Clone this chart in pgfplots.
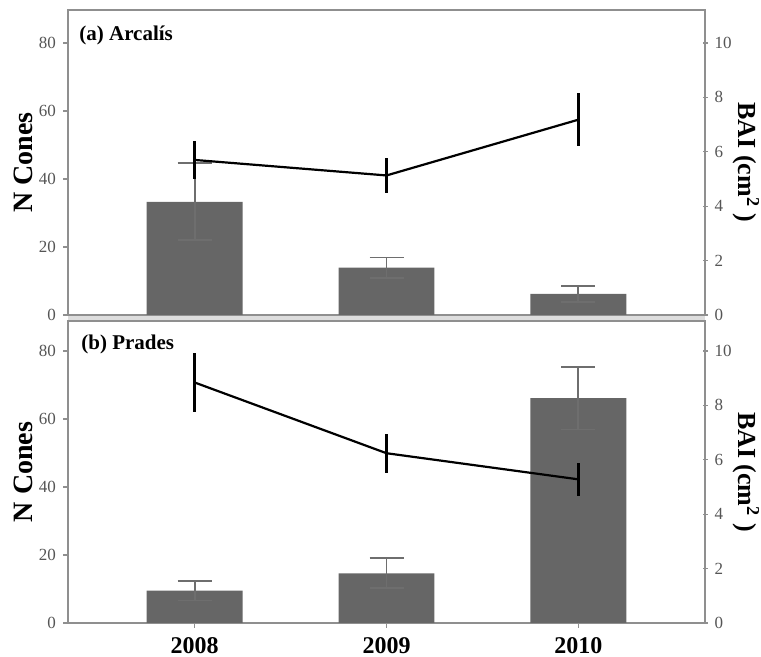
\documentclass[border=0pt]{standalone}
\usepackage{fontspec}
\setmainfont{Liberation Serif}
\usepackage{pgfplots}
\pgfplotsset{compat=1.18}
\definecolor{barc}{HTML}{666666}
\definecolor{axc}{HTML}{8F8F8F}
\definecolor{tickc}{HTML}{555555}
\definecolor{errc}{HTML}{6E6E6E}
\definecolor{gapc}{HTML}{DDDDDD}
\pgfplotsset{
  base/.style={
    scale only axis, width=318.5pt,
    xmin=-0.66, xmax=2.66, xtick={0,1,2},
    axis line style={axc, line width=0.8pt},
    tick style={axc, line width=0.6pt},
    major tick length=2.5pt,
    /pgf/number format/assume math mode=true,
    ticklabel style={font=\fontsize{8.5}{9}\selectfont, text=tickc},
    clip=false,
  },
  leftax/.style={
    base, ytick pos=left, xtick pos=bottom, tick align=outside,
    ytick={0,20,40,60,80},
    every axis y label/.style={at={(axis description cs:0,0.5)}, xshift=-22.5pt, rotate=90, anchor=center,
      font=\fontsize{14}{16}\selectfont\bfseries},
    ylabel={N Cones},
  },
  rightax/.style={
    base, axis y line*=right, axis x line=none, tick align=center,
    ytick={0,2,4,6,8,10},
    every axis y label/.style={at={(axis description cs:1,0.5)}, xshift=20.5pt, rotate=-90, anchor=center,
      font=\fontsize{13}{15}\selectfont\bfseries},
    ylabel={BAI (cm\textsuperscript{2} )},
  },
  bars/.style={ybar, bar width=0.5, fill=barc, draw=none,
    error bars/.cd, y dir=both, y explicit,
    error bar style={errc, line width=0.9pt},
    error mark options={rotate=90, errc, mark size=8.5pt, line width=0.9pt}},
  bai/.style={black, line width=1.1pt, mark=none,
    error bars/.cd, y dir=both, y explicit, error mark=none,
    error bar style={black, line width=1.6pt}},
}
\begin{document}
\begin{tikzpicture}
\fill[gapc] (0,-3pt) rectangle (318.5pt,0pt);
% ---------- panel (a)
\begin{axis}[leftax, at={(0,0)}, height=152.5pt, ymin=0, ymax=89.7, xticklabels={}, xmajorticks=false]
\addplot[bars] coordinates {(0,33.3) +- (0,11.3) (1,13.9) +- (0,3.0) (2,6.2) +- (0,2.4)};
\node[anchor=north west, font=\fontsize{10.5}{12}\selectfont\bfseries, inner sep=0pt, xshift=5.5pt, yshift=-8pt] at (rel axis cs:0,1) {(a) Arcalís};
\end{axis}
\begin{axis}[rightax, at={(0,0)}, height=152.5pt, ymin=0, ymax=11.2125]
\addplot[bai] coordinates {(0,5.7) +- (0,0.7) (1,5.13) +- (0,0.64) (2,7.18) +- (0,0.97)};
\end{axis}
% ---------- panel (b)
\begin{axis}[leftax, at={(0,-154pt)}, height=151pt, ymin=0, ymax=88.8,
  xticklabels={2008,2009,2010},
  xticklabel style={font=\fontsize{12}{14}\selectfont\bfseries, text=black, yshift=-1pt}]
\addplot[bars] coordinates {(0,9.5) +- (0,2.9) (1,14.6) +- (0,4.4) (2,66.1) +- (0,9.2)};
\node[anchor=north west, font=\fontsize{10.5}{12}\selectfont\bfseries, inner sep=0pt, xshift=6.5pt, yshift=-7pt] at (rel axis cs:0,1) {(b) Prades};
\end{axis}
\begin{axis}[rightax, at={(0,-154pt)}, height=151pt, ymin=0, ymax=11.1]
\addplot[bai] coordinates {(0,8.84) +- (0,1.1) (1,6.24) +- (0,0.72) (2,5.28) +- (0,0.6)};
\end{axis}
\pgfresetboundingbox
\path[use as bounding box] (-34pt,-171pt) rectangle (346.5pt,157.5pt);
\end{tikzpicture}
\end{document}
